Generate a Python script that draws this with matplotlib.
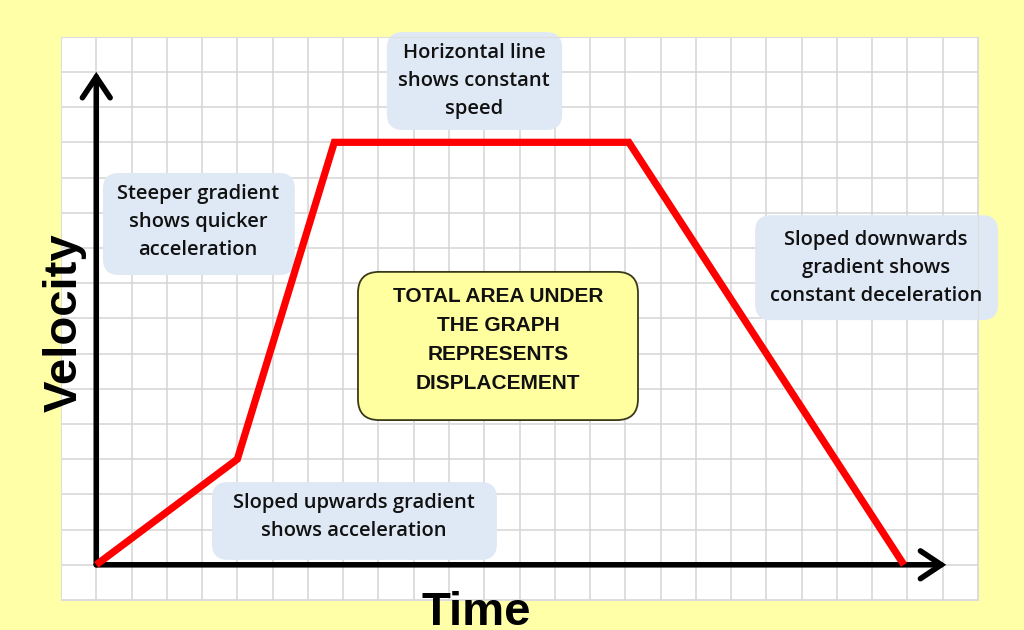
import matplotlib
matplotlib.use('Agg')
from matplotlib import pyplot as plt
from matplotlib.patches import FancyBboxPatch, FancyArrowPatch, Rectangle

# velocity-time graph (grid units, origin at the axes corner)
time_pts = [0, 4, 6.75, 15.1, 22.9]
vel_pts = [0, 3, 12, 12, 0]

notes = [
    'Horizontal line\nshows constant\nspeed',
    'Steeper gradient\nshows quicker\nacceleration',
    'Sloped downwards\ngradient shows\nconstant deceleration',
    'Sloped upwards gradient\nshows acceleration',
]
note_xy = [(10.71, 13.74), (2.88, 9.74), (22.11, 8.43), (7.31, 1.36)]
note_box = [(8.24, 12.35, 13.21, 15.13), (0.19, 8.23, 5.63, 11.13),
            (18.68, 6.95, 25.57, 9.93), (3.28, 0.14, 11.36, 2.35)]
area_text = 'TOTAL AREA UNDER\nTHE GRAPH\nREPRESENTS\nDISPLACEMENT'

fig = plt.figure(figsize=(10.24, 6.3), dpi=100)
fig.patch.set_facecolor('#ffffa8')
ax = fig.add_axes([61/1024, 30/630, 917/1024, 563.3/630])
ax.set_xlim(-1, 25)
ax.set_ylim(-1, 15)
ax.set_facecolor('white')
ax.set_xticks(range(-1, 26))
ax.set_yticks(range(-1, 16))
ax.grid(True, color='#d4d4d4', lw=1.1)
ax.tick_params(length=0, labelbottom=False, labelleft=False)
for s in ax.spines.values():
    s.set_color('#dddddd')
ax.set_axisbelow(True)

# axes arrows
for end in [(0, 14), (24.1, 0)]:
    ax.add_patch(FancyArrowPatch((0, 0), end, arrowstyle='->,head_length=0.75,head_width=0.5',
                                 mutation_scale=20, lw=4, color='black', zorder=3,
                                 shrinkA=0, shrinkB=0, capstyle='round', joinstyle='miter'))

# note boxes
for txt, (tx, ty), (x0, y0, x1, y1) in zip(notes, note_xy, note_box):
    ax.add_patch(FancyBboxPatch((x0, y0), x1 - x0, y1 - y0,
                                boxstyle='round,pad=0,rounding_size=0.45',
                                fc='#dfe9f5', ec='none', zorder=2, clip_on=False))
    ax.text(tx, ty, txt, ha='center', va='center', fontsize=14.5, family='Open Sans',
            weight='semibold', linespacing=1.55, color='#111111', zorder=5)

ax.add_patch(FancyBboxPatch((7.42, 4.11), 7.94, 4.21,
                            boxstyle='round,pad=0,rounding_size=0.6',
                            fc='#ffffa0', ec='#3a3a1a', lw=1.3, zorder=2))
ax.text(11.39, 6.38, area_text, ha='center', va='center', fontsize=15,
        family='Liberation Sans', weight='bold', linespacing=1.68, color='#111111', zorder=5)

ax.plot(time_pts, vel_pts, color='#ff0000', lw=5.2, solid_joinstyle='miter',
        solid_capstyle='butt', zorder=4)

ax.text(-0.89, 6.87, 'Velocity', rotation=90, ha='center', va='center', fontsize=34,
        family='Liberation Sans', weight='bold', clip_on=False)
ax.text(10.77, -1.72, 'Time', ha='center', va='baseline', fontsize=34,
        family='Liberation Sans', weight='bold', clip_on=False)

fig.savefig('out.png', dpi=100, facecolor=fig.get_facecolor())
